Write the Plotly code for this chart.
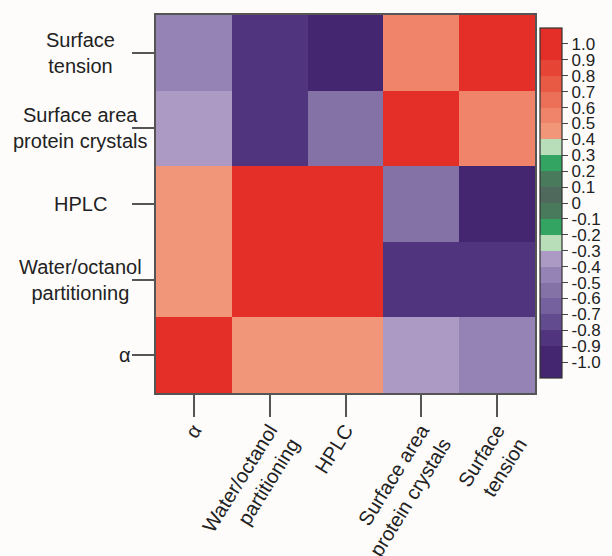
import plotly.graph_objects as go

# Variables compared in the correlation matrix (bottom-to-top / left-to-right)
labels = ["α", "Water/octanol<br>partitioning", "HPLC",
          "Surface area<br>protein crystals", "Surface<br>tension"]

# Pairwise correlation coefficients, rows follow the order of `labels`
corr = [
    [1.00, 0.45, 0.45, -0.35, -0.45],
    [0.45, 1.00, 1.00, -0.85, -0.85],
    [0.45, 1.00, 1.00, -0.55, -0.95],
    [-0.35, -0.85, -0.55, 1.00, 0.55],
    [-0.45, -0.85, -0.95, 0.55, 1.00],
]

# Discrete colour bins of the scale (edges and one colour per bin)
bin_edges = [-1.1, -0.9, -0.8, -0.7, -0.6, -0.5, -0.4, -0.3, -0.2, -0.1, 0.0,
             0.1, 0.2, 0.3, 0.4, 0.5, 0.6, 0.7, 0.8, 0.9, 1.1]
bin_colors = ["#43266f", "#50347d", "#634b90", "#75619e", "#8471a5",
              "#9683b5", "#ac9ac5", "#b8ddb9", "#34a463", "#4a7a5c",
              "#4f6a5c", "#4a7a5c", "#34a463", "#b8ddb9", "#f2967a",
              "#ef846a", "#ec7058", "#e95a44", "#e64535", "#e32f28"]

# Colour bar tick values and labels
cbar_vals = [round(-1.0 + 0.1 * i, 1) for i in range(21)]
cbar_text = ["0" if v == 0 else f"{v:.1f}" for v in cbar_vals]

zmin, zmax = bin_edges[0], bin_edges[-1]
colorscale = []
for lo, hi, c in zip(bin_edges[:-1], bin_edges[1:], bin_colors):
    colorscale.append([(lo - zmin) / (zmax - zmin), c])
    colorscale.append([(hi - zmin) / (zmax - zmin), c])

idx = list(range(len(labels)))
font = "Liberation Sans, Arial, Helvetica, sans-serif"
txt = "#222"

fig = go.Figure(go.Heatmap(
    z=corr, x=idx, y=idx,
    zmin=zmin, zmax=zmax, colorscale=colorscale,
    xgap=0, ygap=0,
    colorbar=dict(
        thickness=22, thicknessmode="pixels",
        len=350, lenmode="pixels",
        x=1.0145, xanchor="left", xpad=0,
        y=0.9656, yanchor="top", ypad=0,
        outlinewidth=1.2, outlinecolor="#333",
        tickvals=cbar_vals, ticktext=cbar_text,
        ticks="outside", ticklen=6, tickcolor="#444", tickwidth=1.2,
        tickfont=dict(family=font, size=17, color=txt),
    ),
))

# Row labels, centred blocks to the left of the tick marks
label_x = {"α": (-0.062, "right")}
for i, lab in enumerate(labels):
    px, anchor = label_x.get(lab, (-0.2005, "center"))
    fig.add_annotation(
        x=px, xref="paper", y=i, yref="y",
        text=lab, showarrow=False, align="center",
        xanchor=anchor, yanchor="middle",
        font=dict(family=font, size=20, color=txt),
    )

fig.update_xaxes(
    tickvals=idx, ticktext=labels, tickangle=-58,
    ticks="outside", ticklen=22, tickwidth=1.5, tickcolor="#555",
    ticklabelstandoff=-6, automargin=False,
    tickfont=dict(family=font, size=20, color=txt),
    showline=True, linecolor="#555", linewidth=1.5, mirror=True,
    showgrid=False, zeroline=False, range=[-0.5, 4.5],
)
fig.update_yaxes(
    tickvals=idx, showticklabels=False, automargin=False,
    ticks="outside", ticklen=22, tickwidth=1.5, tickcolor="#555",
    showline=True, linecolor="#555", linewidth=1.5, mirror=True,
    showgrid=False, zeroline=False, range=[-0.5, 4.5],
)

fig.update_layout(
    width=612, height=556,
    margin=dict(l=156, r=77, t=15, b=163, autoexpand=False),
    paper_bgcolor="#fdfcfa", plot_bgcolor="#fdfcfa",
    font=dict(family=font, size=17, color=txt),
)

fig.write_html("out.html")
